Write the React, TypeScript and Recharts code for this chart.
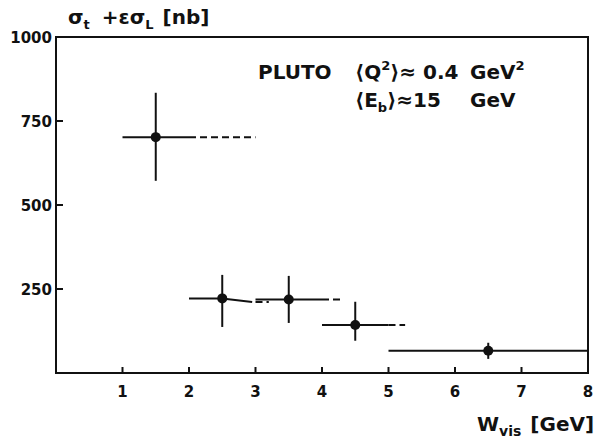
import { ComposedChart, Line, Scatter, ErrorBar, XAxis, YAxis, ReferenceArea } from 'recharts';

// measured cross section points (W_vis in GeV, sigma in nb)
const wVis = [1.5, 2.5, 3.5, 4.5, 6.5];
const sigma = [702, 222, 219, 143, 66];
const sigmaHigh = [834, 292, 289, 212, 90];
const sigmaLow = [572, 137, 149, 96, 42];

// solid bin bars
const solidX = [[1, 2], [2, 2.5, 2.95], [3, 4], [4, 5], [5, 8]];
const solidY = [[702, 702], [222, 222, 211], [219, 219], [143, 143], [66, 66]];

// dashed extensions of the bins
const dashX = [[2, 3], [3, 3.2], [4, 4.3], [5, 5.25]];
const dashY = [[702, 702], [211, 211], [219, 219], [143, 143]];

const xTicks = [1, 2, 3, 4, 5, 6, 7, 8];
const yTicks = [250, 500, 750, 1000];

const INK = '#111';
const FONT = "'DejaVu Sans', sans-serif";

const points = wVis.map((w, i) => ({
  x: w,
  y: sigma[i],
  err: [sigma[i] - sigmaLow[i], sigmaHigh[i] - sigma[i]],
}));

const toSeg = (xs: number[], ys: number[]) => xs.map((x, i) => ({ x, y: ys[i] }));

const XTick = ({ x, y, payload }: any) => (
  <g>
    {payload.value !== 8 && <line x1={x} x2={x} y1={y} y2={y - 6} stroke={INK} strokeWidth={2} />}
    <text x={x} y={y + 24} textAnchor="middle" fontSize={15} fontWeight="bold" fontFamily={FONT} fill={INK}>
      {payload.value}
    </text>
  </g>
);

const YTick = ({ x, y, payload }: any) => (
  <g>
    {payload.value !== 1000 && <line x1={x} x2={x + 7} y1={y} y2={y} stroke={INK} strokeWidth={2} />}
    <text x={x - 4} y={y + 6} textAnchor="end" fontSize={15} fontWeight="bold" fontFamily={FONT} fill={INK}>
      {payload.value}
    </text>
  </g>
);

const Dot = ({ cx, cy }: any) => <circle cx={cx} cy={cy} r={5} fill={INK} />;

export default function App() {
  return (
    <div style={{ position: 'absolute', left: 0, top: 0, width: 607, height: 441, background: '#fff' }}>
      <ComposedChart width={607} height={441} margin={{ top: 37, right: 19, bottom: 0, left: 0 }}>
        <XAxis
          dataKey="x"
          type="number"
          domain={[0, 8]}
          ticks={xTicks}
          allowDataOverflow
          axisLine={false}
          tickLine={false}
          tickSize={0}
          tickMargin={0}
          height={68}
          tick={<XTick />}
        />
        <YAxis
          type="number"
          domain={[0, 1000]}
          ticks={yTicks}
          allowDataOverflow
          axisLine={false}
          tickLine={false}
          tickSize={0}
          tickMargin={0}
          width={56}
          tick={<YTick />}
        />
        <ReferenceArea x1={0} x2={8} y1={0} y2={1000} fill="none" stroke={INK} strokeWidth={2} ifOverflow="visible" />
        {solidX.map((xs, i) => (
          <Line
            key={`s${i}`}
            data={toSeg(xs, solidY[i])}
            dataKey="y"
            stroke={INK}
            strokeWidth={2}
            dot={false}
            activeDot={false}
            isAnimationActive={false}
            type="linear"
          />
        ))}
        {dashX.map((xs, i) => (
          <Line
            key={`d${i}`}
            data={toSeg(xs, dashY[i])}
            dataKey="y"
            stroke={INK}
            strokeWidth={2}
            strokeDasharray="7 4"
            dot={false}
            activeDot={false}
            isAnimationActive={false}
            type="linear"
          />
        ))}
        <Scatter data={points} dataKey="y" shape={<Dot />} isAnimationActive={false}>
          <ErrorBar dataKey="err" direction="y" width={0} stroke={INK} strokeWidth={2} isAnimationActive={false} />
        </Scatter>
      </ComposedChart>
      <svg width={607} height={441} style={{ position: 'absolute', left: 0, top: 0, pointerEvents: 'none' }}>
        <g fontFamily={FONT} fontWeight="bold" fill={INK}>
          <text x={68} y={24} fontSize={20}>
            σ<tspan dy={5} fontSize={13}>t</tspan>
            <tspan dy={-5} dx={12}>+εσ</tspan>
            <tspan dy={5} fontSize={13}>L</tspan>
            <tspan dy={-5} dx={9}>[nb]</tspan>
          </text>
          <text x={258} y={79} fontSize={20}>PLUTO</text>
          <text x={355} y={79} fontSize={20}>
            ⟨Q<tspan dy={-9} fontSize={13}>2</tspan>
            <tspan dy={9}>⟩≈ 0.4</tspan>
          </text>
          <text x={470} y={79} fontSize={20}>
            GeV<tspan dy={-9} fontSize={13}>2</tspan>
          </text>
          <text x={355} y={107} fontSize={20}>
            ⟨E<tspan dy={5} fontSize={13}>b</tspan>
            <tspan dy={-5}>⟩≈15</tspan>
          </text>
          <text x={470} y={107} fontSize={20}>GeV</text>
          <text x={477} y={431} fontSize={20}>
            W<tspan dy={5} fontSize={14}>vis</tspan>
            <tspan dy={-5} dx={9}>[GeV]</tspan>
          </text>
        </g>
      </svg>
    </div>
  );
}
